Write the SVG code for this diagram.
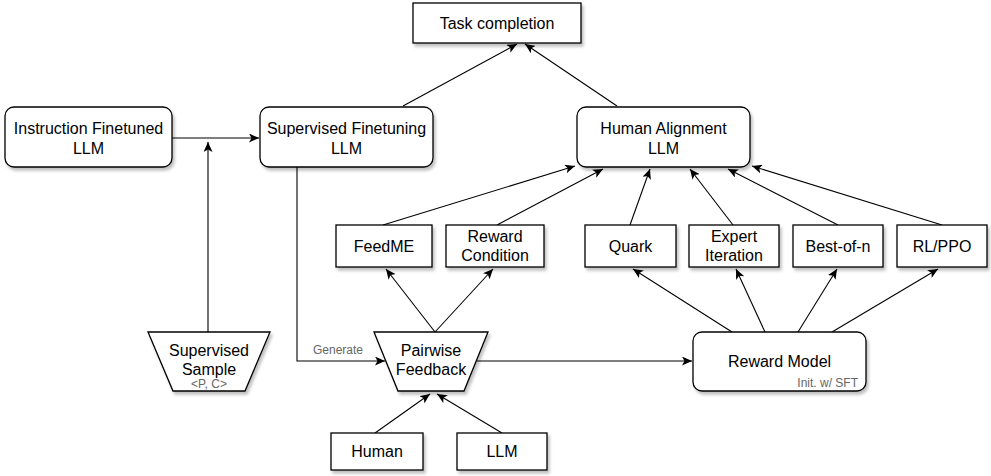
<svg xmlns="http://www.w3.org/2000/svg" width="991" height="476" viewBox="0 0 991 476">
<defs>
<filter id="sh" x="-10%" y="-10%" width="130%" height="140%">
<feDropShadow dx="2" dy="3" stdDeviation="1.5" flood-color="#000" flood-opacity="0.25"/>
</filter>
<marker id="ar" markerUnits="userSpaceOnUse" markerWidth="11" markerHeight="9" refX="10" refY="4.5" orient="auto">
<path d="M0,0 L10,4.5 L0,9 L2.5,4.5 z" fill="#000"/>
</marker>
</defs>
<style>
.n{fill:#fff;stroke:#000;stroke-width:1.3;filter:url(#sh)}
.t{font-family:"Liberation Sans",Arial,sans-serif;font-size:16px;fill:#000;text-anchor:middle}
.s{font-family:"Liberation Sans",Arial,sans-serif;font-size:12px;fill:#666}
.c{fill:none;stroke:#000;stroke-width:1.1;marker-end:url(#ar)}
</style>
<rect width="991" height="476" fill="#fff"/>
<g id="connectors">
<line class="c" x1="403" y1="106" x2="517" y2="44"/>
<line class="c" x1="617" y1="106" x2="525" y2="44"/>
<line class="c" x1="172" y1="138" x2="259" y2="138"/>
<line class="c" x1="208" y1="332" x2="208" y2="142"/>
<path class="c" d="M297,167 V361 H385"/>
<line class="c" x1="477" y1="361" x2="692" y2="361"/>
<line class="c" x1="435" y1="332" x2="386" y2="269"/>
<line class="c" x1="435" y1="332" x2="493" y2="269"/>
<line class="c" x1="375" y1="433" x2="430" y2="394"/>
<line class="c" x1="502" y1="433" x2="437" y2="394"/>
<line class="c" x1="732" y1="332" x2="633" y2="269"/>
<line class="c" x1="765" y1="332" x2="736" y2="269"/>
<line class="c" x1="798" y1="332" x2="837" y2="269"/>
<line class="c" x1="832" y1="332" x2="938" y2="269"/>
<line class="c" x1="383" y1="225" x2="575" y2="166"/>
<line class="c" x1="497" y1="225" x2="603" y2="169"/>
<line class="c" x1="630" y1="225" x2="650" y2="169"/>
<line class="c" x1="733" y1="225" x2="690" y2="169"/>
<line class="c" x1="838" y1="225" x2="728" y2="169"/>
<line class="c" x1="942" y1="225" x2="752" y2="166"/>
<text class="s" x="313" y="354">Generate</text>
</g>
<g id="task-completion">
<rect class="n" x="413" y="3" width="168" height="40"/>
<text class="t" x="497" y="28.5">Task completion</text>
</g>
<g id="instruction-finetuned">
<rect class="n" x="5" y="107" width="167" height="60" rx="9"/>
<text class="t" x="88.5" y="133.5">Instruction Finetuned</text>
<text class="t" x="88.5" y="153.5">LLM</text>
</g>
<g id="supervised-finetuning">
<rect class="n" x="260" y="107" width="173" height="60" rx="9"/>
<text class="t" x="346.5" y="133.5">Supervised Finetuning</text>
<text class="t" x="346.5" y="153.5">LLM</text>
</g>
<g id="human-alignment">
<rect class="n" x="577" y="107" width="173" height="60" rx="9"/>
<text class="t" x="663.5" y="133.5">Human Alignment</text>
<text class="t" x="663.5" y="153.5">LLM</text>
</g>
<g id="feedme">
<rect class="n" x="336" y="225" width="96" height="42"/>
<text class="t" x="384" y="251.5">FeedME</text>
</g>
<g id="reward-condition">
<rect class="n" x="446" y="225" width="98" height="42"/>
<text class="t" x="495" y="242">Reward</text>
<text class="t" x="495" y="261">Condition</text>
</g>
<g id="quark">
<rect class="n" x="585" y="225" width="91" height="42"/>
<text class="t" x="630.5" y="251.5">Quark</text>
</g>
<g id="expert-iteration">
<rect class="n" x="689" y="225" width="90" height="42"/>
<text class="t" x="734" y="242">Expert</text>
<text class="t" x="734" y="261">Iteration</text>
</g>
<g id="best-of-n">
<rect class="n" x="793" y="225" width="90" height="42"/>
<text class="t" x="838" y="251.5">Best-of-n</text>
</g>
<g id="rl-ppo">
<rect class="n" x="897" y="225" width="90" height="42"/>
<text class="t" x="942" y="251.5">RL/PPO</text>
</g>
<g id="supervised-sample">
<polygon class="n" points="148,332 270,332 245,391 173,391"/>
<text class="t" x="209" y="356">Supervised</text>
<text class="t" x="209" y="375">Sample</text>
<text class="s" x="209" y="388" text-anchor="middle" font-size="11">&lt;P, C&gt;</text>
</g>
<g id="pairwise-feedback">
<polygon class="n" points="374,332 488,332 464,391 398,391"/>
<text class="t" x="431" y="356">Pairwise</text>
<text class="t" x="431" y="375">Feedback</text>
</g>
<g id="reward-model">
<rect class="n" x="693" y="332" width="173" height="59" rx="9"/>
<text class="t" x="779.5" y="367">Reward Model</text>
<text class="s" x="858" y="387" text-anchor="end">Init. w/ SFT</text>
</g>
<g id="human">
<rect class="n" x="331" y="433" width="92" height="37"/>
<text class="t" x="377" y="457">Human</text>
</g>
<g id="llm">
<rect class="n" x="457" y="433" width="90" height="37"/>
<text class="t" x="502" y="457">LLM</text>
</g>
</svg>
